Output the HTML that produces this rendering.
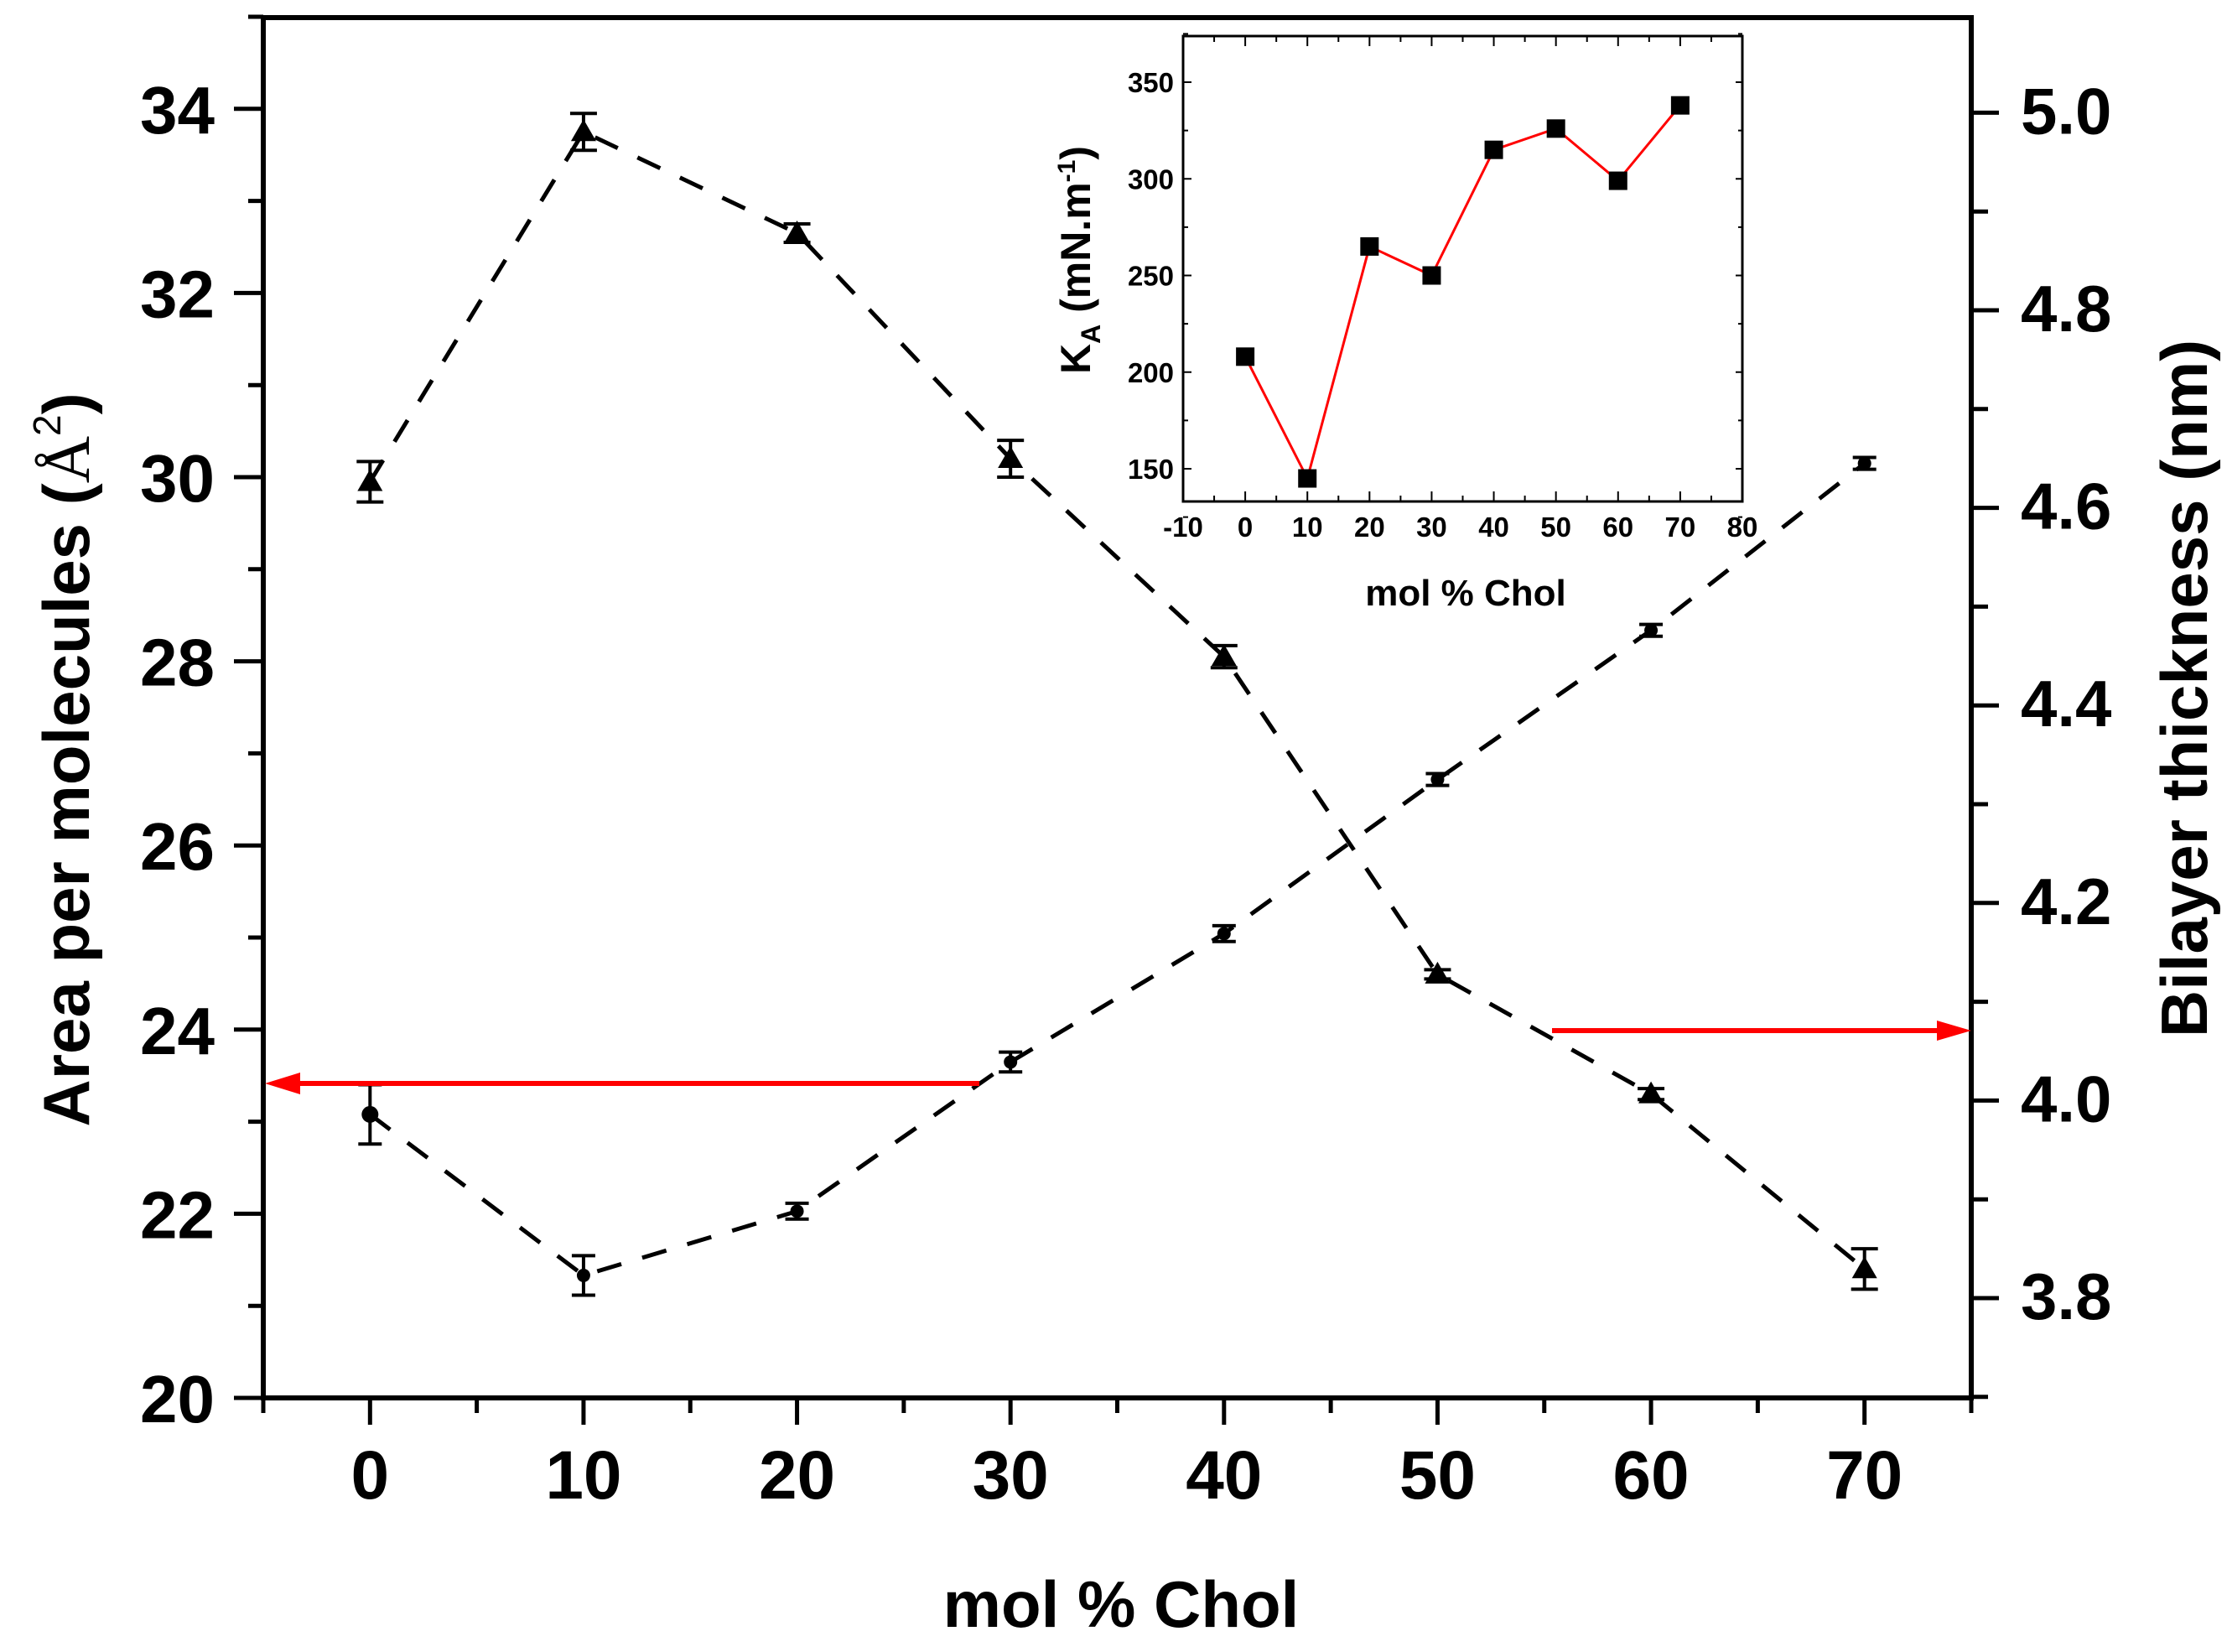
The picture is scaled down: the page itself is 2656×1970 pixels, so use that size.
<!DOCTYPE html>
<html><head><meta charset="utf-8"><style>
html,body{margin:0;padding:0;background:#fff;}
svg{display:block;}
text{font-family:"Liberation Sans",sans-serif;font-weight:bold;fill:#000;}
</style></head><body>
<svg id="chart" width="2656" height="1970" viewBox="0 0 2656 1970" xmlns="http://www.w3.org/2000/svg">
<g id="main"></g>
<g id="inset"></g>
</svg>
<script>
// main chart data
const xCats = [0,10,20,30,40,50,60,70];
const areaVals = [29.95,33.75,32.65,30.2,28.05,24.6,23.3,21.4];
const areaErr = [0.22,0.2,0.1,0.2,0.12,0.05,0.06,0.22];
const thickVals = [3.986,3.823,3.888,4.039,4.169,4.325,4.476,4.645];
const thickErr = [0.03,0.02,0.008,0.01,0.008,0.006,0.006,0.006];
const xTicks = [0,10,20,30,40,50,60,70];
const leftTicks = [20,22,24,26,28,30,32,34];
const rightTicks = [3.8,4.0,4.2,4.4,4.6,4.8,5.0];
// inset data
const insetVals = [208,145,265,250,315,326,299,338];
const insetXTicks = [-10,0,10,20,30,40,50,60,70,80];
const insetYTicks = [150,200,250,300,350];

const NS="http://www.w3.org/2000/svg";
function mk(tag,attrs,parent){const e=document.createElementNS(NS,tag);for(const k in attrs)e.setAttribute(k,attrs[k]);parent.appendChild(e);return e;}

const L=314,R=2351,T=21,B=1667;
const X=v=>L+(v+5)*(R-L)/80;
const YL=v=>B-(v-20)*109.8;
const YR=v=>1548-(v-3.8)*1178;
const g=document.getElementById('main');

let frame=mk('rect',{x:L,y:T,width:R-L,height:B-T,fill:'none',stroke:'#000','stroke-width':6},g);



for(let v=-5;v<=75;v+=5){
  const major=(v%10===0);
  const t=mk('line',{x1:X(v),x2:X(v),y1:B,y2:B+(major?32:18),stroke:'#000','stroke-width':5},g);
  
  
}
xTicks.forEach(v=>{
  const t=mk('text',{x:X(v),y:1787,'font-size':82,'text-anchor':'middle'},g);
  t.textContent=v;
  
  
});
for(let v=20;v<=35;v+=1){
  const major=(v%2===0);
  const t=mk('line',{x1:L,x2:L-(major?35:18),y1:YL(v),y2:YL(v),stroke:'#000','stroke-width':5},g);
  
  
}
leftTicks.forEach(v=>{
  const t=mk('text',{x:256,y:YL(v)+29,'font-size':80,'text-anchor':'end'},g);
  t.textContent=v;
  
  
});
for(let i=0;i<=13;i++){
  const v=3.7+i*0.1;
  const major=(i%2===1);
  const t=mk('line',{x1:R,x2:R+(major?33:20),y1:YR(v),y2:YR(v),stroke:'#000','stroke-width':5},g);
  
  
}
rightTicks.forEach(v=>{
  const t=mk('text',{x:2410,y:YR(v)+25,'font-size':78},g);
  t.textContent=v.toFixed(1);
  
  
});
let xt=mk('text',{x:1337,y:1940,'font-size':78,'text-anchor':'middle'},g);
xt.textContent='mol % Chol';


let ylt=mk('text',{x:0,y:0,'font-size':78,'text-anchor':'middle',transform:'translate(106,906) rotate(-90)'},g);
ylt.innerHTML='Area per molecules (<tspan font-family="Liberation Serif" font-weight="normal">Å</tspan><tspan font-size="46" dy="-34" font-weight="normal">2</tspan><tspan dy="34">)</tspan>';


let yrt=mk('text',{x:0,y:0,'font-size':78,'text-anchor':'middle',transform:'translate(2632,821) rotate(-90)'},g);
yrt.textContent='Bilayer thickness (nm)';



let ap=mk('polyline',{points:xCats.map((c,i)=>X(c)+','+YL(areaVals[i])).join(' '),fill:'none',stroke:'#000','stroke-width':5,'stroke-dasharray':'30 26'},g);


xCats.forEach((c,i)=>{
  const cx=X(c),cy=YL(areaVals[i]),e=areaErr[i]*109.8;
  const eb=mk('path',{d:`M${cx},${cy-e}V${cy+e}M${cx-16},${cy-e}H${cx+16}M${cx-16},${cy+e}H${cx+16}`,stroke:'#000','stroke-width':4,fill:'none'},g);
  
  
  const m=mk('polygon',{points:`${cx},${cy-15} ${cx-15},${cy+11} ${cx+15},${cy+11}`,fill:'#000'},g);
  
  
});
let tp=mk('polyline',{points:xCats.map((c,i)=>X(c)+','+YR(thickVals[i])).join(' '),fill:'none',stroke:'#000','stroke-width':5,'stroke-dasharray':'30 26'},g);


xCats.forEach((c,i)=>{
  const cx=X(c),cy=YR(thickVals[i]),e=thickErr[i]*1178;
  const eb=mk('path',{d:`M${cx},${cy-e}V${cy+e}M${cx-14},${cy-e}H${cx+14}M${cx-14},${cy+e}H${cx+14}`,stroke:'#000','stroke-width':4,fill:'none'},g);
  
  
  const m=mk('circle',{cx:cx,cy:cy,r:i===0?10:8,fill:'#000'},g);
  
  
});
let a1=mk('path',{d:'M1168,1292H350',stroke:'#f00','stroke-width':6,fill:'none'},g);


let a1h=mk('polygon',{points:'316,1292 358,1279 358,1305',fill:'#f00'},g);


let a2=mk('path',{d:'M1851,1229H2315',stroke:'#f00','stroke-width':6,fill:'none'},g);


let a2h=mk('polygon',{points:'2351,1229 2310,1217 2310,1241',fill:'#f00'},g);



// inset
const IL=1411,IR=2078,IT=43,IB=598;
const IX=v=>IL+(v+10)*(IR-IL)/90;
const IY=v=>559-(v-150)*(461/200);
const gi=document.getElementById('inset');
let ifr=mk('rect',{x:IL,y:IT,width:IR-IL,height:IB-IT,fill:'#fff',stroke:'#000','stroke-width':3},gi);


for(let v=-10;v<=80;v+=5){
  const major=(v%10===0);
  const t=mk('path',{d:`M${IX(v)},${IB}v${major?-12:-7}M${IX(v)},${IT}v${major?12:7}`,stroke:'#000','stroke-width':2},gi);
  
  
}
insetXTicks.forEach(v=>{
  const t=mk('text',{x:IX(v),y:640,'font-size':33,'font-weight':'normal','text-anchor':'middle'},gi);
  t.textContent=v;
  
  
});
for(let v=125;v<=375;v+=25){
  const major=(v%50===0);
  const t=mk('path',{d:`M${IL},${IY(v)}h${major?10:6}M${IR},${IY(v)}h${major?-8:-5}`,stroke:'#000','stroke-width':2},gi);
  
  
}
insetYTicks.forEach(v=>{
  const t=mk('text',{x:1400,y:IY(v)+12,'font-size':33,'font-weight':'normal','text-anchor':'end'},gi);
  t.textContent=v;
  
  
});
let ixt=mk('text',{x:1748,y:722,'font-size':44,'text-anchor':'middle'},gi);
ixt.textContent='mol % Chol';


let iyt=mk('text',{x:0,y:0,'font-size':50,'text-anchor':'middle','font-weight':'normal',transform:'translate(1300,310) rotate(-90)'},gi);
iyt.innerHTML='<tspan font-weight="bold">K</tspan><tspan font-size="32" dy="12" font-weight="bold">A</tspan><tspan dy="-12"> (mN.m</tspan><tspan font-size="30" dy="-18">-1</tspan><tspan dy="18">)</tspan>';


let il=mk('polyline',{points:xCats.map((c,i)=>IX(c)+','+IY(insetVals[i])).join(' '),fill:'none',stroke:'#f00','stroke-width':3},gi);


xCats.forEach((c,i)=>{
  const m=mk('rect',{x:IX(c)-11,y:IY(insetVals[i])-11,width:22,height:22,fill:'#000'},gi);
  
  
});
</script>
</body></html>
